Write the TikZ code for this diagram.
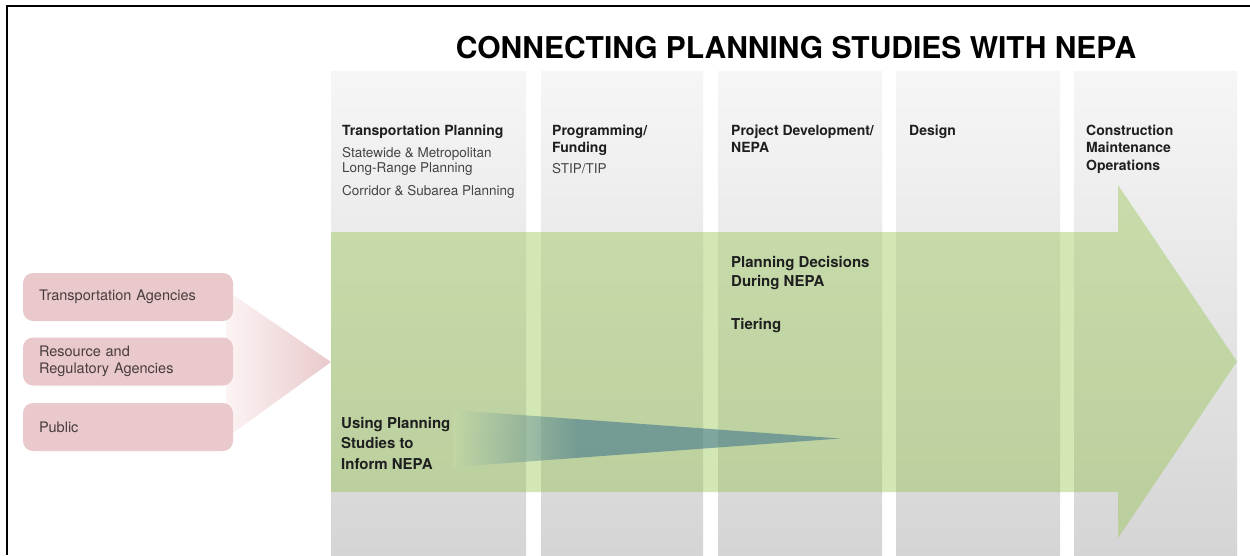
\documentclass[tikz,border=0pt]{standalone}
\usepackage{fontspec}
\setmainfont{TeX Gyre Heros}
\definecolor{colTop}{RGB}{246,246,246}
\definecolor{colBot}{RGB}{213,213,213}
\definecolor{arrowGreen}{RGB}{145,195,72}
\definecolor{greenBg}{RGB}{197,218,166}
\definecolor{tealDeep}{RGB}{44,102,136}
\definecolor{pinkBox}{RGB}{233,201,203}
\definecolor{pinkFade}{RGB}{252,244,244}
\definecolor{hdrText}{RGB}{30,30,30}
\definecolor{subText}{RGB}{68,68,68}
\definecolor{boxText}{RGB}{72,60,62}
% path spans 25bp..75bp of the shading
\pgfdeclarehorizontalshading{bluefade}{100bp}{color(0bp)=(greenBg); color(25bp)=(greenBg); color(41bp)=(tealDeep); color(100bp)=(tealDeep)}
\begin{document}
\begin{tikzpicture}[x=1pt,y=-1pt,
  column/.style={top color=colTop, bottom color=colBot, draw=none},
  hdr/.style={anchor=base west, inner sep=0pt, text=hdrText, font=\fontsize{14}{16}\selectfont\bfseries},
  sub/.style={anchor=base west, inner sep=0pt, text=subText, font=\fontsize{13.5}{15}\selectfont},
  inb/.style={anchor=base west, inner sep=0pt, text=black!88, font=\fontsize{15}{18}\selectfont\bfseries},
  pbox/.style={fill=pinkBox, rounded corners=10pt, minimum width=210pt, minimum height=48pt,
    text width=178pt, inner xsep=16pt, inner ysep=0pt, align=left, text=boxText,
    font=\fontsize{14.5}{17}\selectfont},
]
\useasboundingbox (0,0) rectangle (1250,555);
\fill[white] (0,0) rectangle (1250,555);

% columns
\shade[column] (331,71) rectangle (526,555);
\shade[column] (541,71) rectangle (703,555);
\shade[column] (718,71) rectangle (882,555);
\shade[column] (896,71) rectangle (1060,555);
\shade[column] (1074,71) rectangle (1237,555);

% big green arrow
\fill[arrowGreen, fill opacity=0.4] (331,232) -- (1118,232) -- (1118,185) -- (1237,361.5)
  -- (1118,538) -- (1118,492) -- (331,492) -- cycle;

% blue tapering wedge
\shade[shading=bluefade, opacity=0.5] (453,410) -- (840,438.5) -- (453,467) -- cycle;

% pink funnel
\shade[left color=pinkFade, right color=pinkBox] (226,290) -- (331,362) -- (226,438) -- cycle;

% title
\node[anchor=base, inner sep=0pt, text=black, font=\fontsize{30}{34}\selectfont\bfseries]
  (title) at (796,58) {CONNECTING PLANNING STUDIES WITH NEPA};

% column headers
\node[hdr] (h1) at (342,135) {Transportation Planning};
\node[sub] (h1a) at (342,157) {Statewide \& Metropolitan};
\node[sub] (h1b) at (342,172.5) {Long-Range Planning};
\node[sub] (h1c) at (342,195) {Corridor \& Subarea Planning};

\node[hdr] (h2) at (552,135) {Programming/};
\node[hdr] (h2a) at (552,152.5) {Funding};
\node[sub] (h2b) at (552,173.5) {STIP/TIP};

\node[hdr] (h3) at (731,135) {Project Development/};
\node[hdr] (h3a) at (731,152.5) {NEPA};

\node[hdr] (h4) at (909,135) {Design};

\node[hdr] (h5) at (1086,135) {Construction};
\node[hdr] (h5a) at (1086,152.5) {Maintenance};
\node[hdr] (h5b) at (1086,170) {Operations};

% texts in the green arrow
\node[inb] (pd1) at (731,267) {Planning Decisions};
\node[inb] (pd2) at (731,286) {During NEPA};
\node[inb] (tier) at (731,329) {Tiering};

\node[inb] (up1) at (341,428) {Using Planning};
\node[inb] (up2) at (341,448.5) {Studies to};
\node[inb] (up3) at (341,469) {Inform NEPA};

% stakeholder boxes
\node[pbox] (ta) at (128,297) {Transportation Agencies};
\node[pbox] (rra) at (128,361.5) {Resource and\\Regulatory Agencies};
\node[pbox] (pub) at (128,427) {Public};

% frame (top and left edges)
\draw[black, line width=2pt] (7,555) -- (7,6) -- (1250,6);
\end{tikzpicture}
\end{document}
